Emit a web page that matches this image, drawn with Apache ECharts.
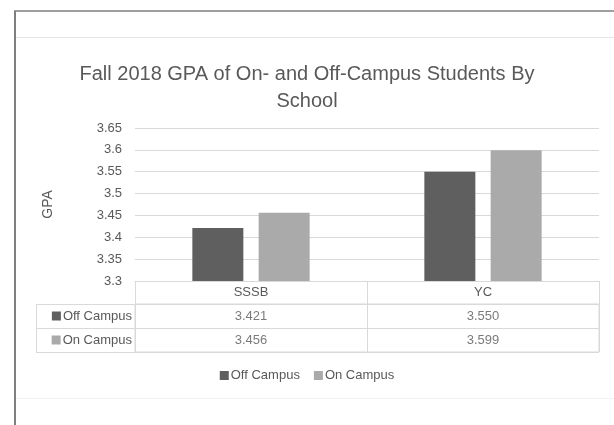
<!DOCTYPE html>
<html>
<head>
<meta charset="utf-8">
<script src="https://cdn.jsdelivr.net/npm/echarts@6/dist/echarts.min.js"></script>
<style>
  html, body { margin: 0; padding: 0; background: #fff; }
  #chart { width: 614px; height: 425px; }
</style>
</head>
<body>
<div id="chart"></div>
<script>
  // data
  var schools = ['SSSB', 'YC'];
  var seriesNames = ['Off Campus', 'On Campus'];
  var offCampus = [3.421, 3.550];
  var onCampus = [3.456, 3.599];
  var colors = ['#5f5f5f', '#aaaaaa'];

  var font = '"Liberation Sans Narrow", "Liberation Sans", sans-serif';
  var txt = '#595959';
  var lineCol = '#d9d9d9';

  // table cells: [col, row, value]
  var cells = [];
  [offCampus, onCampus].forEach(function (vals, r) {
    vals.forEach(function (v, c) { cells.push([c, r, v]); });
  });

  var chart = echarts.init(document.getElementById('chart'));
  chart.setOption({
    animation: false,
    textStyle: { fontFamily: font, color: txt },
    title: {
      text: 'Fall 2018 GPA of On- and Off-Campus Students By\nSchool',
      left: 'center',
      top: 56,
      textStyle: { fontFamily: font, fontSize: 20, fontWeight: 'normal', color: txt, lineHeight: 27 }
    },
    legend: {
      bottom: 38,
      left: 'center',
      itemWidth: 9,
      itemHeight: 9,
      itemGap: 14,
      icon: 'rect',
      textStyle: { fontFamily: font, fontSize: 13, color: txt, padding: [0, 0, 0, -3] },
      data: seriesNames
    },
    grid: [
      { left: 135, right: 15, top: 128, bottom: 144 },
      { left: 135, right: 15, top: 304, height: 48, show: true, borderColor: lineCol, borderWidth: 1 }
    ],
    xAxis: [
      {
        type: 'category',
        data: schools,
        gridIndex: 0,
        axisLine: { lineStyle: { color: lineCol } },
        axisTick: { show: true, length: 23, lineStyle: { color: lineCol } },
        axisLabel: { fontSize: 13, color: txt, margin: 5 }
      },
      {
        type: 'category',
        data: schools,
        gridIndex: 1,
        axisLine: { show: false },
        axisTick: { show: false },
        axisLabel: { show: false },
        splitLine: { show: true, lineStyle: { color: lineCol } }
      }
    ],
    yAxis: [
      {
        type: 'value',
        gridIndex: 0,
        min: 3.3,
        max: 3.65,
        interval: 0.05,
        name: 'GPA',
        nameLocation: 'middle',
        nameGap: 80,
        nameTextStyle: { fontSize: 14, color: txt },
        axisLabel: { fontSize: 13, color: txt, margin: 13 },
        axisLine: { show: false },
        axisTick: { show: false },
        splitLine: { lineStyle: { color: lineCol } }
      },
      {
        type: 'category',
        data: seriesNames,
        inverse: true,
        gridIndex: 1,
        axisLine: { show: false },
        axisTick: { show: true, length: 99, lineStyle: { color: lineCol } },
        splitLine: { show: true, lineStyle: { color: lineCol } },
        axisLabel: {
          margin: 3,
          formatter: function (v, i) { return '{s' + i + '|}{t|' + v + '}'; },
          rich: {
            s0: { backgroundColor: colors[0], width: 9, height: 9 },
            s1: { backgroundColor: colors[1], width: 9, height: 9 },
            t: { fontSize: 13, color: txt, fontFamily: font, padding: [0, 0, 0, 2] }
          }
        }
      }
    ],
    series: [
      {
        name: seriesNames[0],
        type: 'bar',
        data: offCampus,
        barWidth: 51,
        barGap: '30%',
        itemStyle: { color: colors[0] }
      },
      {
        name: seriesNames[1],
        type: 'bar',
        data: onCampus,
        barWidth: 51,
        barGap: '30%',
        itemStyle: { color: colors[1] }
      },
      {
        type: 'scatter',
        xAxisIndex: 1,
        yAxisIndex: 1,
        symbolSize: 0,
        data: cells,
        label: {
          show: true,
          position: 'inside',
          fontSize: 13,
          color: txt,
          fontFamily: font,
          formatter: function (p) { return p.value[2].toFixed(3); }
        }
      }
    ],
    graphic: [
      { type: 'line', shape: { x1: 15, y1: 11, x2: 15, y2: 425 }, style: { stroke: '#7f7f7f', lineWidth: 2 } },
      { type: 'line', shape: { x1: 14, y1: 11, x2: 614, y2: 11 }, style: { stroke: '#7f7f7f', lineWidth: 1.5 } },
      { type: 'line', shape: { x1: 16, y1: 37.5, x2: 614, y2: 37.5 }, style: { stroke: '#e6e6e6', lineWidth: 1 } },
      { type: 'line', shape: { x1: 16, y1: 398.5, x2: 614, y2: 398.5 }, style: { stroke: '#f2f2f2', lineWidth: 1 } },
      { type: 'line', shape: { x1: 36.5, y1: 304, x2: 36.5, y2: 352 }, style: { stroke: lineCol, lineWidth: 1 } }
    ]
  });
</script>
</body>
</html>
